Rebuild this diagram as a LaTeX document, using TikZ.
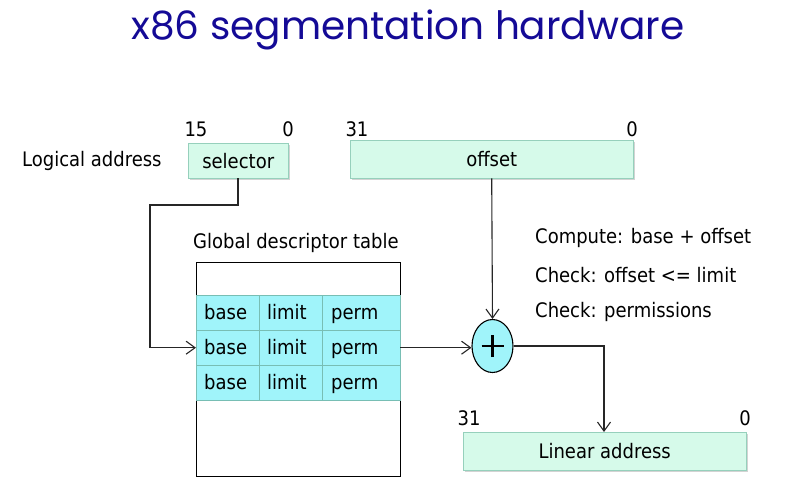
\documentclass[tikz,border=0pt]{standalone}
\usepackage{fontspec}
\setmainfont{DejaVu Sans Condensed}
\newfontfamily\titlefont{Poppins}
\usetikzlibrary{arrows.meta,shadows,shapes.geometric}
\definecolor{titleblue}{RGB}{20,10,150}
\definecolor{mint}{RGB}{214,250,234}
\definecolor{mintedge}{RGB}{150,208,188}
\definecolor{cellcyan}{RGB}{160,244,250}
\definecolor{celledge}{RGB}{120,190,180}
\tikzset{
  x=1pt, y=-1pt,
  txt/.style={font=\fontsize{20}{22}\selectfont},
  lbl/.style={txt, inner sep=0pt},
  regbox/.style={txt, draw=mintedge, fill=mint, inner sep=0pt, anchor=north west,
    drop shadow={shadow xshift=2pt, shadow yshift=-2pt, opacity=0.35, fill=gray}},
  cell/.style={draw=celledge, fill=cellcyan, inner sep=0pt, anchor=north west,
    minimum height=35pt},
  wire/.style={draw=black!85, line width=1.1pt},
  arr/.style={wire, -{Straight Barb[length=9pt,width=13pt,line width=1.1pt]}},
}
\begin{document}
\begin{tikzpicture}
\useasboundingbox (0,0) rectangle (787,492);
% heading
\node[font=\titlefont\fontsize{39}{44}\selectfont, text=titleblue] (title) at (408,30) {x86 segmentation hardware};

% logical address: selector and offset
\node[lbl, anchor=west] (lalbl) at (22,161) {Logical address};
\node[regbox, minimum width=100pt, minimum height=35pt] (sel) at (188,143) {selector};
\node[lbl] (s15) at (196,129) {15};
\node[lbl] (s0) at (288,129) {0};
\node[regbox, minimum width=283pt, minimum height=38pt] (off) at (350,140) {offset};
\node[lbl] (o31) at (357,129) {31};
\node[lbl] (o0) at (632,129) {0};

% descriptor table
\node[lbl, anchor=south west] (gdtlbl) at (193,253) {Global descriptor table};
\node[draw=black, line width=1pt, anchor=north west, minimum width=204pt, minimum height=214pt, inner sep=0pt] (gdt) at (196,262) {};
\foreach \r/\y in {1/295,2/330,3/365}{
  \node[cell, minimum width=63pt] (b\r) at (196,\y) {};
  \node[lbl, anchor=base west] at ([xshift=8pt, yshift=-7pt]b\r.west) {base};
  \node[cell, minimum width=63pt] (l\r) at (259,\y) {};
  \node[lbl, anchor=base west] at ([xshift=8pt, yshift=-7pt]l\r.west) {limit};
  \node[cell, minimum width=78pt] (p\r) at (322,\y) {};
  \node[lbl, anchor=base west] at ([xshift=9pt, yshift=-7pt]p\r.west) {perm};
}

% adder
\node[ellipse, draw=black, line width=1.1pt, fill=cellcyan, minimum width=41pt, minimum height=53pt, inner sep=0pt] (add) at (492.5,346) {};
\draw[line width=2.6pt, line cap=butt] ([xshift=-11pt]add.center) -- ([xshift=11pt]add.center)
  ([yshift=-11pt]add.center) -- ([yshift=11pt]add.center);

% linear address
\node[regbox, minimum width=283pt, minimum height=38pt] (lin) at (463,432) {Linear address};
\node[lbl] (l31) at (469,418) {31};
\node[lbl] (l0) at (745,418) {0};

% notes
\node[lbl, anchor=west] (n1) at (535,238) {Compute: base + offset};
\node[lbl, anchor=west] (n2) at (535,275) {Check: offset <= limit};
\node[lbl, anchor=west] (n3) at (535,312) {Check: permissions};

% connectors
\coordinate (selbot) at (238,178);
\draw[arr] (selbot) |- (150,205) |- (b2.west);
\draw[arr] (off.south) -- (add.north);
\draw[arr] (p2.east) -- (p2.east -| add.west);
\draw[arr] (add.east) -| (lin.north -| 604,0);
\end{tikzpicture}
\end{document}
